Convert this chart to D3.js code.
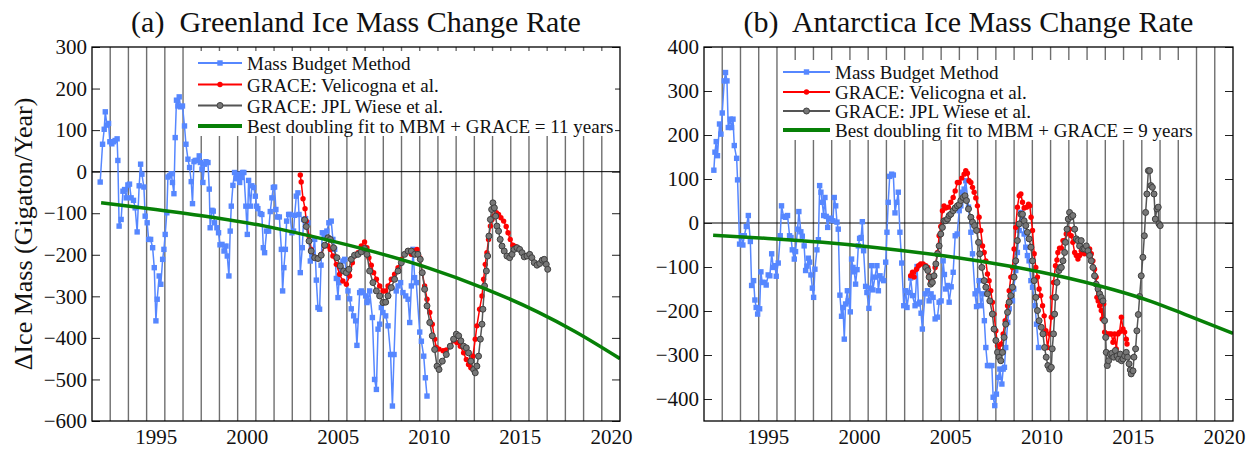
<!DOCTYPE html>
<html>
<head>
<meta charset="utf-8">
<script src="https://cdn.jsdelivr.net/npm/d3@7"></script>
<style>
	body { margin: 0; background: #fff; }
	text { font-family: "Liberation Serif", "Times New Roman", serif; fill: #111; }
</style>
</head>
<body>
<script>
// ---- data: [year, Gt/yr] ----
const yearTicks = [1995, 2000, 2005, 2010, 2015, 2020];
const greenlandTicks = [-600, -500, -400, -300, -200, -100, 0, 100, 200, 300];
const antarcticaTicks = [-400, -300, -200, -100, 0, 100, 200, 300, 400];

const legendLabels = ["Mass Budget Method", "GRACE: Velicogna et al.", "GRACE: JPL Wiese et al."];
const greenlandFitLabel = "Best doubling fit to MBM + GRACE = 11 years";
const antarcticaFitLabel = "Best doubling fit to MBM + GRACE = 9 years";

const greenlandMBM = [[1991.95,-25],[1992.08,66],[1992.17,102],[1992.23,144],[1992.32,112],[1992.41,116],[1992.48,72],[1992.59,67],[1992.68,72],[1992.77,75],[1992.88,79],[1992.92,27],[1992.99,-131],[1993.10,-115],[1993.20,-47],[1993.29,-43],[1993.38,-63],[1993.47,-32],[1993.56,-30],[1993.65,-63],[1993.78,-69],[1993.87,-87],[1993.98,-145],[1994.09,-34],[1994.17,18],[1994.24,-6],[1994.35,-37],[1994.42,-107],[1994.53,-123],[1994.61,-163],[1994.72,-163],[1994.83,-183],[1994.92,-231],[1995.01,-359],[1995.08,-307],[1995.19,-251],[1995.28,-271],[1995.38,-211],[1995.45,-187],[1995.52,-151],[1995.61,-99],[1995.67,-13],[1995.76,-10],[1995.85,-5],[1995.92,-26],[1996.00,-53],[1996.07,82],[1996.14,172],[1996.22,158],[1996.29,180],[1996.36,156],[1996.47,158],[1996.58,110],[1996.66,66],[1996.77,30],[1996.86,10],[1996.95,-24],[1997.02,-77],[1997.10,24],[1997.17,27],[1997.28,27],[1997.39,38],[1997.45,22],[1997.54,6],[1997.59,-26],[1997.68,18],[1997.76,24],[1997.87,22],[1997.94,-42],[1997.99,-135],[1998.09,-93],[1998.16,-95],[1998.23,-123],[1998.36,-135],[1998.45,-147],[1998.53,-176],[1998.64,-175],[1998.75,-191],[1998.86,-179],[1998.93,-203],[1999.02,-251],[1999.09,-143],[1999.15,-83],[1999.24,-33],[1999.33,-2],[1999.42,-17],[1999.51,-6],[1999.61,-26],[1999.70,-14],[1999.77,-2],[1999.84,-2],[1999.95,-83],[2000.03,-151],[2000.10,-21],[2000.21,-83],[2000.28,-34],[2000.38,-38],[2000.47,-59],[2000.54,-83],[2000.61,-89],[2000.74,-101],[2000.83,-103],[2000.91,-183],[2000.98,-195],[2001.09,-143],[2001.20,-143],[2001.29,-96],[2001.38,-63],[2001.46,-38],[2001.53,-37],[2001.60,-91],[2001.68,-109],[2001.79,-109],[2001.90,-187],[2001.97,-287],[2002.04,-231],[2002.12,-187],[2002.19,-119],[2002.30,-103],[2002.37,-103],[2002.48,-147],[2002.57,-143],[2002.63,-105],[2002.72,-59],[2002.81,-51],[2002.87,-103],[2002.94,-243],[2003.05,-183],[2003.12,-115],[2003.23,-113],[2003.36,-123],[2003.49,-215],[2003.60,-199],[2003.73,-163],[2003.82,-261],[2003.91,-327],[2004.00,-331],[2004.08,-225],[2004.15,-147],[2004.28,-156],[2004.40,-143],[2004.51,-123],[2004.64,-119],[2004.73,-163],[2004.83,-187],[2004.92,-257],[2005.01,-303],[2005.06,-267],[2005.19,-235],[2005.28,-215],[2005.38,-211],[2005.47,-243],[2005.56,-287],[2005.65,-306],[2005.74,-330],[2005.87,-347],[2005.98,-359],[2006.05,-418],[2006.20,-291],[2006.29,-287],[2006.38,-291],[2006.53,-299],[2006.60,-315],[2006.66,-311],[2006.75,-287],[2006.90,-351],[2007.02,-500],[2007.12,-524],[2007.21,-379],[2007.30,-367],[2007.39,-327],[2007.48,-339],[2007.63,-347],[2007.76,-371],[2007.90,-440],[2008.00,-564],[2008.09,-440],[2008.21,-287],[2008.31,-275],[2008.45,-267],[2008.58,-291],[2008.73,-299],[2008.86,-307],[2008.95,-363],[2009.04,-275],[2009.13,-187],[2009.22,-255],[2009.31,-267],[2009.50,-386],[2009.59,-408],[2009.72,-444],[2009.81,-496],[2009.90,-540]];

const greenlandVelicogna = [[2002.94,-8],[2002.99,-25],[2003.09,-65],[2003.20,-89],[2003.27,-119],[2003.42,-155],[2003.54,-187],[2003.73,-207],[2003.91,-207],[2004.09,-199],[2004.28,-179],[2004.46,-179],[2004.59,-187],[2004.73,-203],[2004.92,-223],[2005.10,-247],[2005.28,-263],[2005.47,-271],[2005.65,-251],[2005.80,-219],[2005.92,-203],[2006.11,-195],[2006.29,-179],[2006.47,-169],[2006.60,-183],[2006.71,-207],[2006.84,-225],[2006.97,-243],[2007.12,-259],[2007.30,-275],[2007.48,-287],[2007.63,-287],[2007.76,-275],[2007.94,-259],[2008.12,-247],[2008.31,-231],[2008.49,-211],[2008.67,-199],[2008.86,-191],[2009.04,-199],[2009.22,-191],[2009.35,-187],[2009.50,-207],[2009.64,-243],[2009.77,-275],[2009.90,-307],[2010.05,-339],[2010.19,-367],[2010.32,-403],[2010.41,-423],[2010.56,-427],[2010.78,-431],[2010.96,-429],[2011.18,-420],[2011.36,-407],[2011.54,-411],[2011.73,-420],[2011.91,-436],[2012.06,-452],[2012.18,-464],[2012.31,-472],[2012.42,-444],[2012.55,-403],[2012.64,-371],[2012.79,-331],[2012.92,-299],[2013.01,-259],[2013.10,-223],[2013.19,-195],[2013.28,-163],[2013.38,-131],[2013.47,-115],[2013.56,-107],[2013.71,-99],[2013.83,-103],[2013.96,-111],[2014.11,-119],[2014.25,-132],[2014.35,-147],[2014.47,-163],[2014.62,-177],[2014.75,-180]];

const greenlandJPL = [[2003.18,-116],[2003.27,-132],[2003.42,-167],[2003.54,-191],[2003.73,-207],[2003.91,-209],[2004.09,-201],[2004.28,-177],[2004.46,-159],[2004.59,-163],[2004.77,-183],[2004.95,-207],[2005.14,-227],[2005.32,-239],[2005.47,-243],[2005.61,-235],[2005.74,-211],[2005.92,-201],[2006.11,-199],[2006.29,-193],[2006.47,-185],[2006.60,-199],[2006.75,-239],[2006.93,-267],[2007.12,-287],[2007.30,-299],[2007.48,-315],[2007.63,-314],[2007.76,-299],[2007.94,-279],[2008.12,-259],[2008.31,-239],[2008.49,-219],[2008.67,-199],[2008.86,-191],[2009.04,-191],[2009.22,-199],[2009.40,-199],[2009.53,-211],[2009.64,-243],[2009.77,-283],[2009.90,-323],[2010.05,-363],[2010.19,-395],[2010.32,-428],[2010.45,-468],[2010.56,-476],[2010.74,-456],[2010.96,-440],[2011.18,-420],[2011.36,-403],[2011.51,-391],[2011.64,-395],[2011.76,-407],[2011.91,-420],[2012.06,-424],[2012.18,-436],[2012.31,-456],[2012.46,-476],[2012.55,-484],[2012.64,-468],[2012.73,-444],[2012.83,-403],[2012.92,-367],[2012.97,-331],[2013.06,-275],[2013.16,-239],[2013.23,-203],[2013.30,-155],[2013.38,-115],[2013.45,-91],[2013.52,-75],[2013.60,-87],[2013.67,-107],[2013.74,-131],[2013.83,-143],[2013.92,-163],[2014.02,-179],[2014.14,-191],[2014.29,-203],[2014.44,-207],[2014.57,-199],[2014.69,-187],[2014.84,-183],[2014.99,-187],[2015.12,-195],[2015.24,-205],[2015.39,-203],[2015.54,-199],[2015.66,-207],[2015.79,-219],[2015.94,-225],[2016.09,-221],[2016.23,-213],[2016.34,-211],[2016.45,-223],[2016.53,-235]];

const greenlandFit = [[1992,-75],[1995,-91],[1998,-109],[2001,-131],[2004,-160],[2007,-193],[2010,-232],[2013,-280],[2016,-338],[2018,-384],[2020.5,-450]];

const antarcticaMBM = [[1992.04,120],[1992.10,161],[1992.17,185],[1992.24,153],[1992.35,225],[1992.43,202],[1992.50,250],[1992.61,323],[1992.68,342],[1992.76,323],[1992.83,217],[1992.94,236],[1993.01,217],[1993.09,236],[1993.16,176],[1993.29,147],[1993.34,98],[1993.45,-48],[1993.56,-29],[1993.63,-50],[1993.71,-29],[1993.82,-8],[1993.93,17],[1994.04,-42],[1994.11,-142],[1994.22,-131],[1994.29,-175],[1994.36,-192],[1994.44,-207],[1994.55,-195],[1994.62,-111],[1994.69,-135],[1994.80,-135],[1994.91,-141],[1995.02,-118],[1995.11,-120],[1995.21,-70],[1995.30,-101],[1995.39,-97],[1995.46,-121],[1995.57,-91],[1995.68,-29],[1995.75,39],[1995.86,15],[1995.97,13],[1996.08,17],[1996.19,-29],[1996.27,-33],[1996.34,-61],[1996.45,-82],[1996.52,-65],[1996.63,-14],[1996.70,26],[1996.81,-20],[1996.89,-30],[1996.99,-52],[1997.07,-108],[1997.14,-98],[1997.22,-80],[1997.29,-89],[1997.36,-118],[1997.44,-148],[1997.51,-169],[1997.58,-105],[1997.69,-61],[1997.77,-38],[1997.84,85],[1997.91,70],[1997.98,47],[1998.06,17],[1998.13,58],[1998.20,15],[1998.28,-10],[1998.35,9],[1998.46,11],[1998.57,5],[1998.64,58],[1998.72,39],[1998.79,2],[1998.86,-14],[1998.95,-164],[1999.04,-212],[1999.12,-192],[1999.19,-264],[1999.26,-184],[1999.36,-154],[1999.41,-177],[1999.52,-202],[1999.59,-82],[1999.67,-101],[1999.74,-111],[1999.81,-139],[1999.89,-106],[1999.96,-52],[2000.03,-35],[2000.11,-33],[2000.18,3],[2000.25,-63],[2000.36,-144],[2000.43,-158],[2000.54,-194],[2000.62,-148],[2000.69,-97],[2000.76,-152],[2000.87,-123],[2000.98,-97],[2001.06,-154],[2001.15,-120],[2001.24,-127],[2001.35,-131],[2001.46,-89],[2001.53,-21],[2001.60,47],[2001.68,106],[2001.79,111],[2001.88,109],[2001.97,23],[2002.06,47],[2002.15,70],[2002.24,-21],[2002.34,-91],[2002.45,-188],[2002.56,-154],[2002.63,-192],[2002.74,-158],[2002.83,-125],[2002.93,-165],[2003.07,-188],[2003.18,-99],[2003.26,-184],[2003.33,-180],[2003.40,-205],[2003.47,-241],[2003.62,-161],[2003.75,-154],[2003.84,-177],[2003.95,-161],[2004.06,-169],[2004.17,-218],[2004.30,-214],[2004.39,-180],[2004.50,-177],[2004.61,-86],[2004.68,-117],[2004.75,-150],[2004.86,-142],[2004.94,-180],[2005.05,-145],[2005.16,-112],[2005.27,-29],[2005.38,-25],[2005.49,28],[2005.58,39],[2005.67,70],[2005.76,77],[2005.85,96],[2006.00,36],[2006.13,-21],[2006.22,-70],[2006.36,-161],[2006.44,-190],[2006.51,-154],[2006.58,-131],[2006.67,-188],[2006.77,-161],[2006.87,-222],[2006.95,-283],[2007.04,-324],[2007.13,-324],[2007.28,-324],[2007.35,-396],[2007.44,-415],[2007.53,-389],[2007.64,-351],[2007.72,-332],[2007.83,-366],[2007.90,-332],[2007.97,-328],[2008.04,-283],[2008.15,-226],[2008.23,-195],[2008.34,-169],[2008.41,-177],[2008.48,-150],[2008.59,-108],[2008.68,-67],[2008.78,-17],[2008.87,24],[2008.96,13],[2009.05,-25],[2009.14,-55],[2009.23,-74],[2009.32,-86],[2009.42,-131],[2009.51,-146],[2009.65,-188],[2009.73,-230],[2009.84,-283]];

const antarcticaVelicogna = [[2002.83,-120],[2002.93,-112],[2003.02,-123],[2003.15,-105],[2003.26,-97],[2003.38,-93],[2003.51,-93],[2003.66,-97],[2003.77,-101],[2003.84,-120],[2003.93,-131],[2004.06,-123],[2004.17,-101],[2004.30,-67],[2004.39,-29],[2004.48,-8],[2004.57,28],[2004.66,39],[2004.75,34],[2004.90,36],[2005.03,47],[2005.16,58],[2005.27,73],[2005.39,92],[2005.49,92],[2005.63,102],[2005.76,111],[2005.85,119],[2005.94,113],[2006.03,96],[2006.13,92],[2006.22,81],[2006.31,70],[2006.40,57],[2006.49,39],[2006.58,13],[2006.67,-17],[2006.77,-52],[2006.86,-67],[2006.95,-86],[2007.04,-116],[2007.13,-131],[2007.22,-154],[2007.31,-180],[2007.40,-207],[2007.50,-245],[2007.59,-279],[2007.68,-290],[2007.79,-275],[2007.90,-252],[2008.01,-222],[2008.14,-188],[2008.23,-154],[2008.32,-123],[2008.41,-101],[2008.50,-59],[2008.59,-10],[2008.68,36],[2008.78,62],[2008.87,66],[2008.96,47],[2009.05,34],[2009.18,36],[2009.29,43],[2009.36,39],[2009.43,13],[2009.51,-17],[2009.60,-70],[2009.69,-101],[2009.78,-123],[2009.87,-150],[2009.96,-165],[2010.06,-188],[2010.15,-211],[2010.24,-245],[2010.33,-283],[2010.45,-252],[2010.54,-214],[2010.59,-169],[2010.66,-135],[2010.77,-97],[2010.85,-84],[2010.90,-67],[2010.99,-57],[2011.09,-57],[2011.18,-40],[2011.27,-40],[2011.36,-25],[2011.45,-21],[2011.54,-14],[2011.63,-29],[2011.72,-44],[2011.82,-67],[2011.91,-74],[2012.00,-82],[2012.09,-74],[2012.18,-63],[2012.27,-67],[2012.36,-70],[2012.46,-59],[2012.55,-63],[2012.64,-59],[2012.73,-70],[2012.82,-86],[2012.91,-105],[2013.00,-123],[2013.04,-169],[2013.11,-177],[2013.19,-188],[2013.28,-199],[2013.33,-218],[2013.41,-184],[2013.46,-248],[2013.55,-252],[2013.64,-252],[2013.74,-252],[2013.83,-252],[2013.92,-271],[2014.01,-252],[2014.10,-286],[2014.19,-252],[2014.28,-248],[2014.38,-214],[2014.47,-241],[2014.56,-248],[2014.65,-264],[2014.69,-275]];

const antarcticaJPL = [[2003.66,-101],[2003.77,-108],[2003.84,-123],[2003.93,-139],[2004.02,-135],[2004.11,-120],[2004.21,-93],[2004.30,-70],[2004.39,-52],[2004.48,-25],[2004.57,-10],[2004.66,5],[2004.75,5],[2004.85,9],[2004.94,17],[2005.03,20],[2005.16,28],[2005.27,34],[2005.39,39],[2005.49,42],[2005.58,51],[2005.70,58],[2005.81,62],[2005.89,51],[2006.00,32],[2006.13,13],[2006.22,2],[2006.33,-6],[2006.44,-17],[2006.55,-44],[2006.62,-70],[2006.73,-101],[2006.86,-131],[2006.95,-146],[2007.04,-161],[2007.17,-177],[2007.31,-207],[2007.40,-241],[2007.50,-267],[2007.59,-294],[2007.68,-305],[2007.77,-313],[2007.86,-294],[2007.95,-260],[2008.04,-230],[2008.14,-203],[2008.23,-180],[2008.32,-165],[2008.41,-146],[2008.50,-123],[2008.59,-86],[2008.68,-40],[2008.78,-2],[2008.87,20],[2008.96,20],[2009.05,5],[2009.14,-6],[2009.23,-21],[2009.32,-36],[2009.42,-55],[2009.51,-86],[2009.60,-131],[2009.69,-169],[2009.78,-199],[2009.87,-222],[2009.99,-237],[2010.08,-252],[2010.17,-283],[2010.26,-305],[2010.35,-324],[2010.45,-332],[2010.54,-328],[2010.59,-286],[2010.66,-252],[2010.72,-207],[2010.77,-169],[2010.85,-135],[2010.96,-108],[2011.03,-101],[2011.09,-101],[2011.18,-86],[2011.27,-67],[2011.32,-44],[2011.40,-14],[2011.47,9],[2011.54,24],[2011.63,14],[2011.72,17],[2011.82,-14],[2011.91,-36],[2012.00,-40],[2012.09,-52],[2012.18,-40],[2012.27,-59],[2012.36,-59],[2012.46,-52],[2012.55,-63],[2012.64,-74],[2012.73,-86],[2012.82,-101],[2012.91,-120],[2013.00,-139],[2013.10,-150],[2013.19,-161],[2013.28,-169],[2013.37,-177],[2013.46,-222],[2013.52,-260],[2013.55,-294],[2013.61,-324],[2013.68,-313],[2013.77,-298],[2013.86,-296],[2013.96,-305],[2014.05,-290],[2014.14,-302],[2014.23,-309],[2014.32,-298],[2014.39,-313],[2014.47,-309],[2014.56,-302],[2014.65,-294],[2014.72,-305],[2014.80,-320],[2014.87,-334],[2014.92,-343],[2015.02,-336],[2015.07,-305],[2015.16,-286],[2015.23,-245],[2015.31,-208],[2015.38,-167],[2015.47,-120],[2015.56,-78],[2015.64,-29],[2015.71,24],[2015.78,66],[2015.86,119],[2015.93,119],[2016.00,85],[2016.08,81],[2016.17,66],[2016.24,9],[2016.33,32],[2016.40,36],[2016.44,-2],[2016.51,-6]];

const antarcticaFit = [[1992,-28],[1995,-35],[1998,-44],[2001,-56],[2004,-71],[2007,-89],[2010,-112],[2013,-141],[2016,-178],[2018,-210],[2020.5,-251]];

// ---- canvas ----
const w = 1256, h = 449,
	  plotTop = 47, plotBottom = 421,
	  serif = "'Liberation Serif', 'Times New Roman', serif",
	  blue = "#5687ff", red = "#ff0000", gray = "#555555", green = "#078007";

const svg = d3.select("body")
			  .append("svg")
			  .attr("width", w)
			  .attr("height", h);

const drawMarkers = (g, data, kind, x, y) => {
	if (kind === "mbm") {
		g.selectAll("rect.m")
		 .data(data)
		 .enter()
		 .append("rect")
		 .attr("class", "m")
		 .attr("x", d => x(d[0]) - 2.7)
		 .attr("y", d => y(d[1]) - 2.7)
		 .attr("width", 5.4)
		 .attr("height", 5.4)
		 .attr("fill", blue);
	}
	else if (kind === "vel") {
		g.selectAll("circle.m")
		 .data(data)
		 .enter()
		 .append("circle")
		 .attr("class", "m")
		 .attr("cx", d => x(d[0]))
		 .attr("cy", d => y(d[1]))
		 .attr("r", 2.7)
		 .attr("fill", red);
	}
	else {
		g.selectAll("circle.m")
		 .data(data)
		 .enter()
		 .append("circle")
		 .attr("class", "m")
		 .attr("cx", d => x(d[0]))
		 .attr("cy", d => y(d[1]))
		 .attr("r", 3)
		 .attr("fill", "#777")
		 .attr("stroke", "#3f3f3f")
		 .attr("stroke-width", 1);
	}
};

const drawPanel = (p) => {
	const x = d3.scaleLinear().domain([1991.5, 2020.5]).range([p.left, p.right]),
		  y = d3.scaleLinear().domain(p.yDomain).range([plotBottom, plotTop]),
		  g = svg.append("g");

	g.append("clipPath")
	 .attr("id", "clip" + p.id)
	 .append("rect")
	 .attr("x", p.left)
	 .attr("y", plotTop)
	 .attr("width", p.right - p.left)
	 .attr("height", plotBottom - plotTop);

	// vertical year grid (half-year offset, as in the original)
	g.selectAll("line.grid")
	 .data(d3.range(1992.5, 2020, 1))
	 .enter()
	 .append("line")
	 .attr("class", "grid")
	 .attr("x1", d => x(d))
	 .attr("x2", d => x(d))
	 .attr("y1", plotTop)
	 .attr("y2", plotBottom)
	 .attr("stroke", "#6f6f6f")
	 .attr("stroke-width", 1.4);

	// zero line
	g.append("line")
	 .attr("x1", p.left)
	 .attr("x2", p.right)
	 .attr("y1", y(0))
	 .attr("y2", y(0))
	 .attr("stroke", "#000")
	 .attr("stroke-width", 1);

	// axes
	const yAxis = g.append("g")
				   .attr("transform", "translate(" + p.left + ",0)")
				   .call(d3.axisLeft(y).tickValues(p.yTicks).tickSize(-8).tickPadding(5)
						   .tickFormat(d => d < 0 ? "\u2212" + Math.abs(d) : d));
	yAxis.attr("font-family", serif).attr("font-size", 21);
	yAxis.select(".domain").remove();
	yAxis.selectAll("line").attr("stroke", "#222");
	yAxis.selectAll("text").attr("fill", "#111");

	const yRight = g.append("g")
					.attr("transform", "translate(" + p.right + ",0)")
					.call(d3.axisRight(y).tickValues(p.yTicks).tickSize(-8).tickFormat(""));
	yRight.select(".domain").remove();
	yRight.selectAll("line").attr("stroke", "#222");

	const xAxis = g.append("g")
				   .attr("transform", "translate(0," + plotBottom + ")")
				   .call(d3.axisBottom(x).tickValues(yearTicks).tickSize(0).tickPadding(8).tickFormat(d3.format("d")));
	xAxis.attr("font-family", serif).attr("font-size", 21);
	xAxis.select(".domain").remove();
	xAxis.selectAll("text").attr("fill", "#111");

	// series
	const plot = g.append("g").attr("clip-path", "url(#clip" + p.id + ")"),
		  line = d3.line().x(d => x(d[0])).y(d => y(d[1]));

	plot.append("path")
		.datum(p.mbm)
		.attr("d", line)
		.attr("fill", "none")
		.attr("stroke", blue)
		.attr("stroke-width", 1.5);
	drawMarkers(plot.append("g"), p.mbm, "mbm", x, y);

	plot.append("path")
		.datum(p.vel)
		.attr("d", line)
		.attr("fill", "none")
		.attr("stroke", red)
		.attr("stroke-width", 1.5);
	drawMarkers(plot.append("g"), p.vel, "vel", x, y);

	plot.append("path")
		.datum(p.jpl)
		.attr("d", line)
		.attr("fill", "none")
		.attr("stroke", gray)
		.attr("stroke-width", 1.5);
	drawMarkers(plot.append("g"), p.jpl, "jpl", x, y);

	plot.append("path")
		.datum(p.fit)
		.attr("d", d3.line().x(d => x(d[0])).y(d => y(d[1])).curve(d3.curveMonotoneX))
		.attr("fill", "none")
		.attr("stroke", green)
		.attr("stroke-width", 3.5);

	// frame
	g.append("rect")
	 .attr("x", p.left)
	 .attr("y", plotTop)
	 .attr("width", p.right - p.left)
	 .attr("height", plotBottom - plotTop)
	 .attr("fill", "none")
	 .attr("stroke", "#000")
	 .attr("stroke-width", 1.3);

	// title
	g.append("text")
	 .text(p.title)
	 .attr("x", (p.left + p.right) / 2)
	 .attr("y", 32)
	 .attr("text-anchor", "middle")
	 .style("font-size", "30px")
	 .style("white-space", "pre");

	// legend
	const lg = g.append("g");
	lg.append("rect")
	  .attr("x", p.legX - 3)
	  .attr("y", p.legY[0] - 12)
	  .attr("width", p.legW)
	  .attr("height", p.legY[3] - p.legY[0] + 22)
	  .attr("fill", "#fff");

	const items = [
		{label: legendLabels[0], color: blue, kind: "mbm"},
		{label: legendLabels[1], color: red, kind: "vel"},
		{label: legendLabels[2], color: gray, kind: "jpl"},
		{label: p.fitLabel, color: green, kind: "fit"}
	];
	items.forEach((it, i) => {
		const yy = p.legY[i];
		lg.append("line")
		  .attr("x1", p.legX)
		  .attr("x2", p.legX + p.legLen)
		  .attr("y1", yy)
		  .attr("y2", yy)
		  .attr("stroke", it.color)
		  .attr("stroke-width", it.kind === "fit" ? 4 : 2.2);
		if (it.kind !== "fit") {
			drawMarkers(lg.append("g"), [[p.legX + p.legLen / 2, yy]], it.kind, d => d, d => d);
		}
		lg.append("text")
		  .text(it.label)
		  .attr("x", p.legX + p.legLen + 5)
		  .attr("y", yy + 7)
		  .style("font-size", "19px");
	});
};

drawPanel({
	id: "a", left: 92, right: 620, yDomain: [-600, 300], yTicks: greenlandTicks,
	mbm: greenlandMBM, vel: greenlandVelicogna, jpl: greenlandJPL, fit: greenlandFit,
	title: "(a)  Greenland Ice Mass Change Rate", fitLabel: greenlandFitLabel,
	legX: 198, legLen: 44, legW: 420, legY: [63, 84.5, 105.5, 126]
});

drawPanel({
	id: "b", left: 704, right: 1233, yDomain: [-450, 400], yTicks: antarcticaTicks,
	mbm: antarcticaMBM, vel: antarcticaVelicogna, jpl: antarcticaJPL, fit: antarcticaFit,
	title: "(b)  Antarctica Ice Mass Change Rate", fitLabel: antarcticaFitLabel,
	legX: 783, legLen: 47, legW: 410, legY: [72, 92, 111, 130]
});

// y axis label, left panel only
svg.append("text")
   .text("\u0394Ice Mass (Gigaton/Year)")
   .attr("transform", "translate(32," + (plotTop + plotBottom) / 2 + ") rotate(-90)")
   .attr("text-anchor", "middle")
   .style("font-size", "26px");
</script>
</body>
</html>
